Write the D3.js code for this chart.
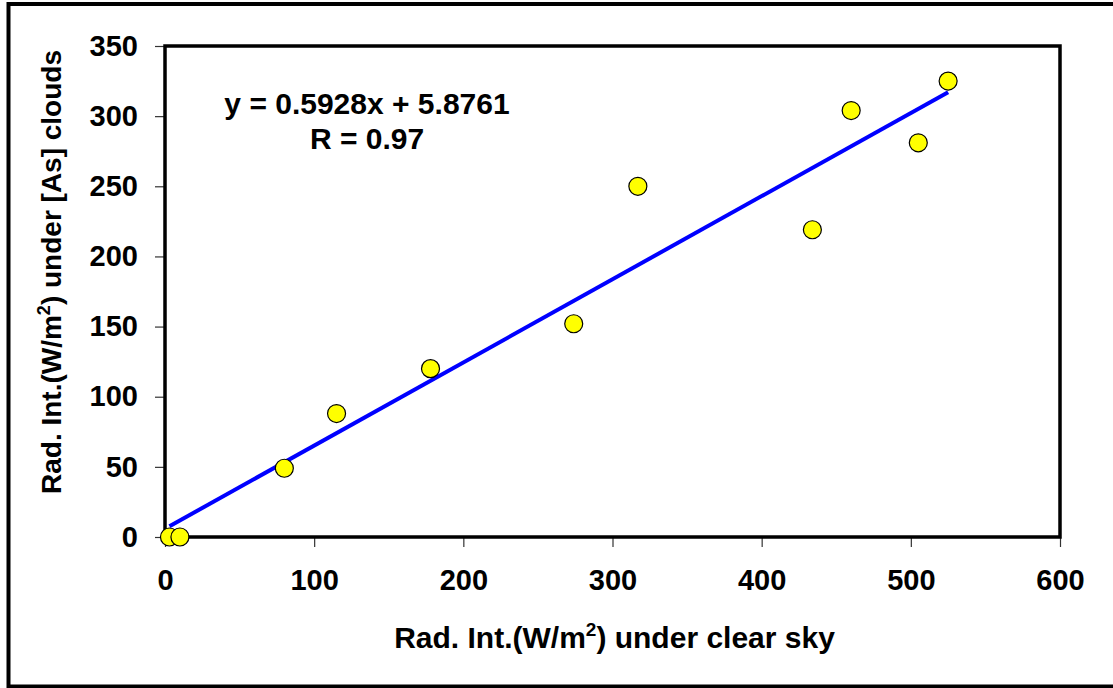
<!DOCTYPE html>
<html lang="en">
<head>
    <meta charset="UTF-8">
    <title>Rad. Int. clear sky vs As clouds</title>
    <script src="https://d3js.org/d3.v7.min.js"></script>
    <style>
        body { margin: 0; background: #fff; }
        text { font-family: "Liberation Sans", Arial, sans-serif; font-weight: bold; }
    </style>
</head>
<body>
    <div id="chart"></div>
    <script>
        // values
        const clearSky = [3, 10, 80, 115, 178, 274, 317, 434, 460, 505, 525];
        const asClouds = [0, 0, 49, 88, 120, 152, 250, 219, 304, 281, 325];
        const xTicks = [0, 100, 200, 300, 400, 500, 600];
        const yTicks = [0, 50, 100, 150, 200, 250, 300, 350];
        const slope = 0.5928;
        const intercept = 5.8761;
        const rValue = 0.97;

        const width = 1113, height = 688;
        const margin = { top: 46, right: 53, bottom: 151, left: 165 };

        const svg = d3.select("#chart")
            .append("svg")
            .attr("width", width)
            .attr("height", height);

        // outer chart border
        svg.append("rect")
            .attr("x", 8.5).attr("y", 4)
            .attr("width", 1110).attr("height", 682.5)
            .attr("fill", "none")
            .attr("stroke", "#000")
            .attr("stroke-width", 4);

        const x = d3.scaleLinear()
            .domain([0, 600])
            .range([margin.left, width - margin.right]);

        const y = d3.scaleLinear()
            .domain([0, 350])
            .range([height - margin.bottom, margin.top]);

        const data = clearSky.map((d, i) => ({ x: d, y: asClouds[i] }));

        // axes
        const xAxis = svg.append("g")
            .attr("transform", `translate(0,${y(0)})`)
            .call(d3.axisBottom(x).tickValues(xTicks).tickSizeInner(10).tickSizeOuter(0).tickPadding(22));
        const yAxis = svg.append("g")
            .attr("transform", `translate(${x(0)},0)`)
            .call(d3.axisLeft(y).tickValues(yTicks).tickSizeInner(10).tickSizeOuter(0).tickPadding(17));

        [xAxis, yAxis].forEach(g => {
            g.select(".domain").remove();
            g.selectAll(".tick line").attr("stroke", "#333").attr("stroke-width", 1.2);
            g.selectAll(".tick text")
                .attr("fill", "#000")
                .style("font-size", "29px")
                .style("font-family", "'Liberation Sans', Arial, sans-serif")
                .style("font-weight", "bold");
        });

        // plot frame
        svg.append("rect")
            .attr("x", x(0)).attr("y", y(350))
            .attr("width", x(600) - x(0))
            .attr("height", y(0) - y(350))
            .attr("fill", "none")
            .attr("stroke", "#000")
            .attr("stroke-width", 3.5);

        // trendline
        const ext = d3.extent(clearSky);
        svg.append("line")
            .attr("x1", x(ext[0])).attr("y1", y(slope * ext[0] + intercept))
            .attr("x2", x(ext[1])).attr("y2", y(slope * ext[1] + intercept))
            .attr("stroke", "#0000ff")
            .attr("stroke-width", 4);

        // points
        svg.append("g")
            .selectAll("circle")
            .data(data)
            .join("circle")
            .attr("cx", d => x(d.x))
            .attr("cy", d => y(d.y))
            .attr("r", 9)
            .attr("fill", "#ffff00")
            .attr("stroke", "#000")
            .attr("stroke-width", 1.2);

        // equation
        const eq = svg.append("text")
            .attr("text-anchor", "middle")
            .style("font-size", "30px");
        eq.append("tspan").attr("x", 367).attr("y", 114)
            .text(`y = ${slope}x + ${intercept}`);
        eq.append("tspan").attr("x", 367).attr("y", 149)
            .text(`R = ${rValue}`);

        // x axis title
        const xt = svg.append("text")
            .attr("x", (x(0) + x(600)) / 2 + 2)
            .attr("y", 648)
            .attr("text-anchor", "middle")
            .style("font-size", "30px");
        xt.append("tspan").text("Rad. Int.(W/m");
        xt.append("tspan").attr("dy", -12).style("font-size", "19px").text("2");
        xt.append("tspan").attr("dy", 12).text(") under clear sky");

        // y axis title
        const yt = svg.append("text")
            .attr("transform", "translate(61,272) rotate(-90)")
            .attr("text-anchor", "middle")
            .style("font-size", "28px");
        yt.append("tspan").text("Rad. Int.(W/m");
        yt.append("tspan").attr("dy", -11).style("font-size", "18px").text("2");
        yt.append("tspan").attr("dy", 11).text(") under [As] clouds");
    </script>
</body>
</html>
